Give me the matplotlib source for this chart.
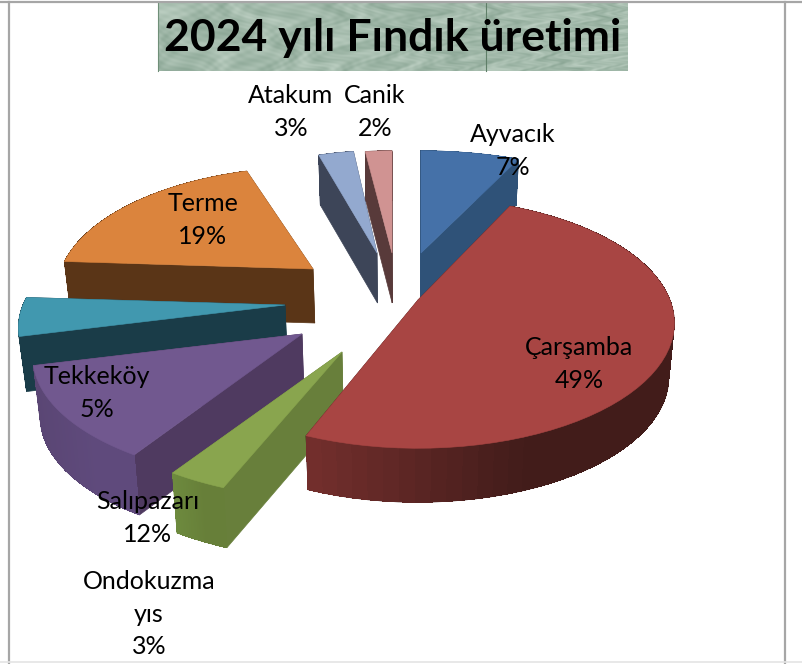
import numpy as np
import matplotlib
matplotlib.use('Agg')
import matplotlib.pyplot as plt
from matplotlib.colors import to_rgb
from matplotlib.lines import Line2D

# Data
names = ['Ayvacık', 'Çarşamba', 'Ondokuzma\nyıs', 'Salıpazarı', 'Tekkeköy', 'Terme', 'Atakum', 'Canik']
shares = [7, 49, 3, 12, 5, 19, 3, 2]
title = '2024 yılı Fındık üretimi'

# Styles
top_colors = ['#4571a8', '#a84543', '#89a54e', '#71588f', '#4198af', '#db843d', '#93a9cf', '#d09392']
cut_colors = ['#2f5278', '#421c1a', '#687f3b', '#4f3a60', '#1a3c48', '#5a3517', '#3d4558', '#583a3a']
arc_left = ['#2f5278', '#742f2d', '#6d8a3e', '#5a4674', '#1a3c48', '#5a3517', '#3d4558', '#583a3a']
arc_right = ['#2f5278', '#421c1a', '#677f39', '#5f4a7c', '#1a3c48', '#5a3517', '#3d4558', '#583a3a']

# Layout, pixels on the 803x664 canvas
center = (380, 295)
explode_x = [41, 38, -38, -78, -95, -67, -3, 12]
explode_y = [-42, 5, 57, 39, 10, -26, -42, -42]
stretch_x = [1.06, 1.0, 1.06, 1.05, 1.04, 1.0, 0.88, 1.0]
depths = [46, 54, 60, 60, 55, 54, 50, 50]
label_x = [513, 579, 149, 148, 97, 203, 291, 375]
label_y = [151, 364, 614, 518, 393, 220, 112, 112]
draw_order = [7, 6, 0, 5, 4, 3, 2, 1]
rx, ry, persp = 252, 121, 0.184
shrink = 0.02
vanish_x = 400


def project(theta, ax0, ay0, sx):
    # unit disk to screen, with a bit of perspective (back is smaller)
    X, Y = np.sin(theta), np.cos(theta)
    w = 1 + persp * Y
    x = ax0 + sx * rx * X / w
    y = ay0 - ry * Y / w
    return x, y


def lower(x):
    # bottom rim converges slightly
    return x - (x - vanish_x) * shrink


def draw_slice(ax, start, end, i):
    ax0 = center[0] + explode_x[i]
    ay0 = center[1] + explode_y[i]
    theta = np.linspace(start, end, 60)
    x, y = project(theta, ax0, ay0, stretch_x[i])
    xb = lower(x)
    yb = y + depths[i]
    ax0b = lower(ax0)
    ay0b = ay0 + depths[i]

    # cut faces
    for k in (0, -1):
        ax.fill([ax0, x[k], xb[k], ax0b], [ay0, y[k], yb[k], ay0b],
                color=cut_colors[i], lw=0.5)

    # outer wall: base shape first, then the shading strips on top
    c0, c1 = np.array(to_rgb(arc_left[i])), np.array(to_rgb(arc_right[i]))
    ax.fill(np.r_[x, xb[::-1]], np.r_[y, yb[::-1]], color=c1, lw=0.5)
    span = max(x.max() - x.min(), 1)
    for j in range(len(x) - 1):
        t = (0.5 * (x[j] + x[j + 1]) - x.min()) / span
        col = c0 + (c1 - c0) * min(1, t * 1.7)
        ax.fill([x[j], x[j + 1], xb[j + 1], xb[j]], [y[j], y[j + 1], yb[j + 1], yb[j]],
                color=col, lw=0, antialiased=False)

    # top face
    ax.fill(np.r_[ax0, x], np.r_[ay0, y], color=top_colors[i], lw=0.4)


def title_box(ax):
    # mottled sage background behind the title
    xx, yy = np.meshgrid(np.linspace(0, 1, 470), np.linspace(0, 1, 68))
    warp = np.sin(23 * xx + 3) * np.cos(5 * yy) + 0.6 * np.sin(47 * xx * yy + 1)
    tex = (np.sin(31 * xx + 4 * yy + 2 * warp) + np.sin(67 * xx - 11 * yy + 3 * warp + 1)
           + 0.6 * np.sin(151 * xx + 37 * yy + 4 * warp) + 0.4 * np.sin(233 * xx - 71 * yy + 5 * warp))
    tex = (tex - tex.min()) / (tex.max() - tex.min())
    c0, c1 = np.array(to_rgb('#8ca796')), np.array(to_rgb('#bacdc0'))
    img = c0 + (c1 - c0) * tex[..., None]
    ax.imshow(img, extent=(158, 628, 71, 3), aspect='auto', zorder=1)
    ax.add_line(Line2D([486, 486], [3, 71], color='#5f7f68', lw=0.8, zorder=2))
    ax.add_line(Line2D([158, 158], [3, 71], color='#6f8f78', lw=0.8, zorder=2))
    ax.text(393, 38, title, fontsize=32, fontweight='bold', family='Lato',
            ha='center', va='center', color='black', zorder=3)


def main():
    fig = plt.figure(figsize=(8.03, 6.64), dpi=100)
    ax = fig.add_axes([0, 0, 1, 1])

    title_box(ax)

    # border of the chart area
    ax.add_line(Line2D([0, 803], [2, 2], color='#a6a6a6', lw=1.6))
    ax.add_line(Line2D([9, 9], [2, 664], color='#a6a6a6', lw=1.6))
    ax.add_line(Line2D([785, 785], [2, 664], color='#a6a6a6', lw=1.6))
    ax.add_line(Line2D([0, 803], [662, 662], color='#e4e4e4', lw=1.2))

    # slice angles from the shares, clockwise from 12 o'clock
    edges = np.r_[0, np.cumsum(shares)] / np.sum(shares) * 2 * np.pi
    for i in draw_order:
        draw_slice(ax, edges[i], edges[i + 1], i)

    for i, name in enumerate(names):
        ax.text(label_x[i], label_y[i], f'{name}\n{shares[i]}%', fontsize=18, family='Lato',
                ha='center', va='center', linespacing=1.5, color='black', zorder=5)

    ax.set_xlim(0, 803)
    ax.set_ylim(664, 0)
    ax.axis('off')
    fig.savefig('out.png', dpi=100)


if __name__ == "__main__":
    main()
